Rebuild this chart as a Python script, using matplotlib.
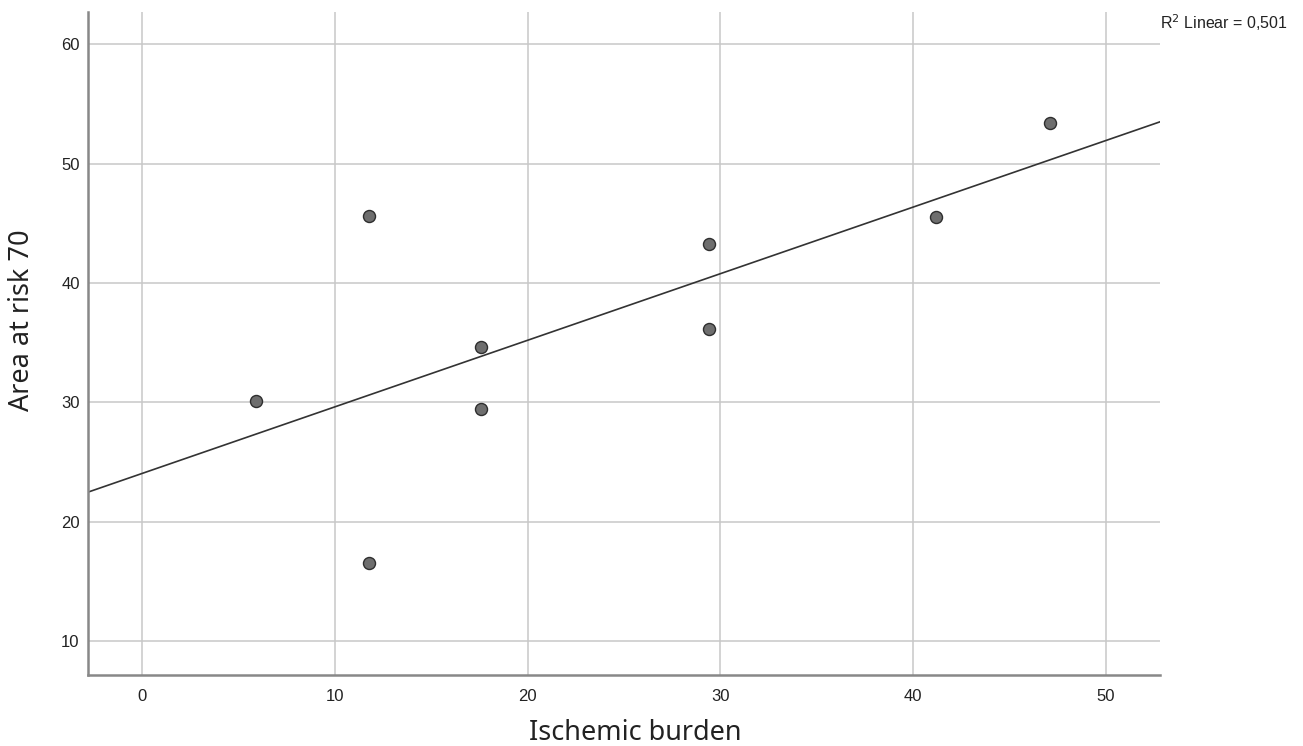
import matplotlib
matplotlib.use("Agg")
import matplotlib.pyplot as plt
import numpy as np

ischemic_burden = [5.9, 11.8, 11.8, 17.6, 17.6, 29.4, 29.4, 41.2, 47.1]
area_at_risk = [30.1, 45.6, 16.5, 34.6, 29.4, 43.3, 36.1, 45.5, 53.4]
x_ticks = [0, 10, 20, 30, 40, 50]
y_ticks = [10, 20, 30, 40, 50, 60]

fig = plt.figure(figsize=(13.03, 7.46), dpi=100)
ax = fig.add_axes([88/1303, 71/746, (1160-88)/1303, (675-12)/746])

xlim = (-2.8, 52.8)
ylim = (7.15, 62.7)
ax.set_xlim(*xlim)
ax.set_ylim(*ylim)

ax.set_xticks(x_ticks)
ax.set_yticks(y_ticks)
ax.grid(True, color="#c8c8c8", linewidth=1.1)
ax.set_axisbelow(True)
ax.tick_params(length=0, labelsize=12, labelcolor="#222222")
ax.tick_params(axis="x", pad=10)
ax.tick_params(axis="y", pad=6)
for lab in ax.get_xticklabels() + ax.get_yticklabels():
    lab.set_family("Liberation Sans")

for s in ["top", "right"]:
    ax.spines[s].set_visible(False)
for s in ["left", "bottom"]:
    ax.spines[s].set_color("#888888")
    ax.spines[s].set_linewidth(1.8)

x = np.array(ischemic_burden)
y = np.array(area_at_risk)
slope, intercept = np.polyfit(x, y, 1)
xx = np.array(xlim)
ax.plot(xx, slope * xx + intercept, color="#333333", linewidth=1.2, zorder=2)

ax.scatter(x, y, s=75, facecolor="#6e6e6e", edgecolor="#2e2e2e", linewidth=1.0, zorder=3)

ax.set_xlabel("Ischemic burden", fontsize=19.5, family="Noto Sans", color="#222222")
ax.set_ylabel("Area at risk 70", fontsize=19.5, family="Noto Sans", color="#222222")
ax.xaxis.set_label_coords((635-88)/1072, (675-733)/663)
ax.yaxis.set_label_coords((22-88)/1072, (675-320)/663)
ax.xaxis.label.set_va("center")
ax.yaxis.label.set_va("center")

fig.text(1160/1303, 1 - 23/746, r"R$^2$ Linear = 0,501", fontsize=11.5, family="Liberation Sans",
         color="#222222", ha="left", va="center")

fig.savefig("out.png", dpi=100)
